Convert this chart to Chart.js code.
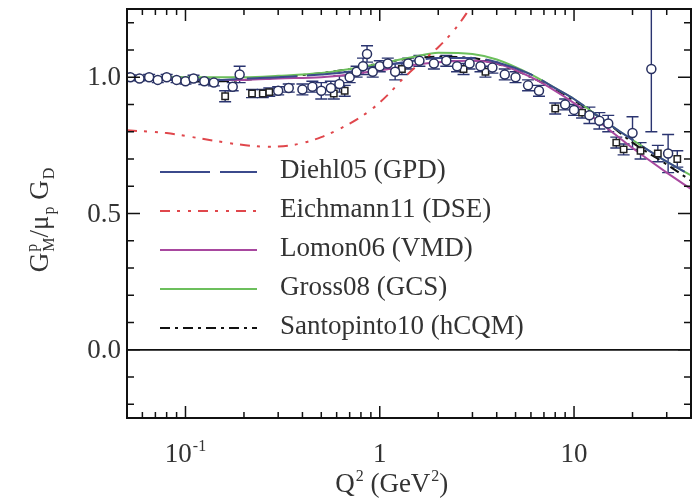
<!DOCTYPE html>
<html>
<head>
<meta charset="utf-8">
<script src="https://cdn.jsdelivr.net/npm/chart.js@4.4.1/dist/chart.umd.min.js"></script>
<style>
  html, body { margin: 0; padding: 0; background: #fff; }
  #wrap { width: 699px; height: 504px; }
</style>
</head>
<body>
<div id="wrap"><canvas id="gm" width="699" height="504"></canvas></div>
<script>
// Q^2 grid (GeV^2) for the model curves
const q2Grid      = [0.05, 0.07, 0.1, 0.15, 0.2, 0.3, 0.5, 0.7, 1, 1.5, 2, 3, 4, 6, 8, 10, 15, 20, 30, 40];
const diehl05     = [0.99, 0.99, 0.99, 0.99, 0.995, 1.0, 1.01, 1.02, 1.04, 1.06, 1.07, 1.07, 1.055, 1.01, 0.96, 0.92, 0.83, 0.77, 0.69, 0.64];
const lomon06     = [1.0, 0.995, 0.99, 0.99, 0.99, 0.995, 1.0, 1.01, 1.025, 1.045, 1.055, 1.06, 1.05, 1.0, 0.95, 0.905, 0.81, 0.74, 0.65, 0.59];
const gross08     = [1.0, 1.0, 1.0, 1.0, 1.0, 1.005, 1.015, 1.03, 1.05, 1.075, 1.09, 1.085, 1.065, 1.01, 0.96, 0.92, 0.83, 0.77, 0.69, 0.64];
const santopinto10= [0.99, 0.99, 0.985, 0.985, 0.99, 1.0, 1.015, 1.03, 1.05, 1.07, 1.075, 1.07, 1.05, 1.0, 0.955, 0.915, 0.83, 0.76, 0.68, 0.62];

// Eichmann11 runs on its own grid (leaves the frame near Q^2 = 3)
const eichQ2      = [0.05, 0.08, 0.12, 0.18, 0.26, 0.35, 0.5, 0.7, 0.9, 1.1, 1.3, 1.6, 2.0, 2.4, 2.8, 3.0];
const eichmann11  = [0.805, 0.795, 0.775, 0.755, 0.745, 0.75, 0.78, 0.83, 0.88, 0.935, 0.99, 1.05, 1.11, 1.17, 1.235, 1.27];

// experimental points: open circles
const circQ2  = [0.052, 0.058, 0.065, 0.072, 0.08, 0.09, 0.1, 0.11, 0.125, 0.14, 0.175, 0.19, 0.3, 0.34, 0.4, 0.45, 0.5, 0.56, 0.62, 0.7, 0.76, 0.82, 0.86, 0.92, 1.0, 1.1, 1.2, 1.4, 1.6, 1.9, 2.2, 2.5, 2.9, 3.3, 3.8, 4.4, 5.0, 5.8, 6.6, 9.0, 10, 12, 13.5, 15, 20, 25, 30.5];
const circG   = [1.0, 0.995, 1.0, 0.99, 1.0, 0.99, 0.985, 0.995, 0.985, 0.98, 0.965, 1.01, 0.95, 0.96, 0.955, 0.965, 0.95, 0.96, 0.975, 1.0, 1.02, 1.04, 1.085, 1.02, 1.04, 1.05, 1.02, 1.05, 1.06, 1.05, 1.06, 1.04, 1.05, 1.04, 1.035, 1.01, 1.0, 0.97, 0.95, 0.9, 0.88, 0.86, 0.84, 0.83, 0.795, 1.03, 0.72];
const circErr = [0.008, 0.008, 0.01, 0.01, 0.01, 0.01, 0.01, 0.012, 0.012, 0.012, 0.015, 0.03, 0.015, 0.015, 0.02, 0.02, 0.03, 0.025, 0.03, 0.02, 0.02, 0.03, 0.03, 0.02, 0.02, 0.02, 0.03, 0.02, 0.02, 0.02, 0.02, 0.02, 0.02, 0.02, 0.02, 0.02, 0.02, 0.02, 0.02, 0.02, 0.02, 0.03, 0.03, 0.03, 0.06, 0.23, 0.07];

// experimental points: open squares
const sqQ2  = [0.16, 0.22, 0.25, 0.27, 0.58, 0.66, 1.3, 2.7, 3.5, 8.0, 11, 16.5, 18, 22, 27, 34];
const sqG   = [0.93, 0.94, 0.94, 0.945, 0.94, 0.95, 1.03, 1.03, 1.02, 0.885, 0.87, 0.76, 0.735, 0.73, 0.72, 0.70];
const sqErr = [0.02, 0.015, 0.015, 0.015, 0.02, 0.02, 0.02, 0.02, 0.02, 0.02, 0.02, 0.02, 0.02, 0.03, 0.03, 0.03];

const xLabelValues = [0.1, 1, 10];
const yLabelValues = [0, 0.5, 1.0];
const yLabelTexts  = ['0.0', '0.5', '1.0'];

const FONT = '"Liberation Serif", "DejaVu Serif", serif';
const pts = (xs, ys) => xs.map((x, i) => ({ x: x, y: ys[i] }));

function curve(label, xs, ys, color, dash) {
  return { type: 'line', label: label, data: pts(xs, ys), borderColor: color, borderWidth: 2,
           borderDash: dash, pointRadius: 0, cubicInterpolationMode: 'monotone', fill: false, order: 1 };
}

const datasets = [
  curve('Diehl05 (GPD)', q2Grid, diehl05, '#3b4a8c', [50, 10]),
  curve('Eichmann11 (DSE)', eichQ2, eichmann11, '#e0474c', [10, 7, 3, 8, 3, 7]),
  curve('Lomon06 (VMD)', q2Grid, lomon06, '#a8489f', []),
  curve('Gross08 (GCS)', q2Grid, gross08, '#6cbf5c', []),
  curve('Santopinto10 (hCQM)', q2Grid, santopinto10, '#111111', [10, 5, 3, 5]),
  { type: 'scatter', label: 'circ', data: pts(circQ2, circG), err: circErr, pointStyle: 'circle',
    pointRadius: 4.5, borderWidth: 1.5, borderColor: '#283060', backgroundColor: '#ffffff', order: 0 },
  { type: 'scatter', label: 'sq', data: pts(sqQ2, sqG), err: sqErr, pointStyle: 'rect',
    pointRadius: 4.5, borderWidth: 1.5, borderColor: '#222222', backgroundColor: '#ffffff', order: 0 }
];

// draws rich text: parts = [{t, k}] with k = 'n' normal, 'sup', 'sub', 'both' (sup/sub stacked)
function richWidth(ctx, parts, big, small) {
  let w = 0;
  parts.forEach(p => {
    if (p.k === 'n') { ctx.font = big + 'px ' + FONT; w += ctx.measureText(p.t).width; }
    else if (p.k === 'both') { ctx.font = small + 'px ' + FONT; w += Math.max(ctx.measureText(p.t[0]).width, ctx.measureText(p.t[1]).width) + 1; }
    else { ctx.font = small + 'px ' + FONT; w += ctx.measureText(p.t).width + 1; }
  });
  return w;
}
function drawRich(ctx, parts, cx, baseline, big, small) {
  let x = cx - richWidth(ctx, parts, big, small) / 2;
  ctx.textAlign = 'left'; ctx.textBaseline = 'alphabetic';
  parts.forEach(p => {
    if (p.k === 'n') { ctx.font = big + 'px ' + FONT; ctx.fillText(p.t, x, baseline); x += ctx.measureText(p.t).width; }
    else if (p.k === 'both') {
      ctx.font = small + 'px ' + FONT;
      ctx.fillText(p.t[0], x + 1, baseline - big * 0.42);
      ctx.fillText(p.t[1], x + 1, baseline + big * 0.22);
      x += Math.max(ctx.measureText(p.t[0]).width, ctx.measureText(p.t[1]).width) + 1;
    } else {
      ctx.font = small + 'px ' + FONT;
      ctx.fillText(p.t, x + 1, baseline + (p.k === 'sup' ? -big * 0.42 : big * 0.22));
      x += ctx.measureText(p.t).width + 1;
    }
  });
}

const decor = {
  id: 'decor',
  beforeDatasetsDraw(chart) {
    const { ctx, chartArea: a, scales: { x, y } } = chart;
    ctx.save();
    ctx.beginPath(); ctx.rect(a.left, a.top, a.right - a.left, a.bottom - a.top); ctx.clip();
    // zero line
    ctx.strokeStyle = '#111'; ctx.lineWidth = 1.6;
    ctx.beginPath(); ctx.moveTo(a.left, y.getPixelForValue(0)); ctx.lineTo(a.right, y.getPixelForValue(0)); ctx.stroke();
    // error bars
    chart.data.datasets.forEach(ds => {
      if (!ds.err) return;
      ctx.strokeStyle = '#2a3470'; ctx.lineWidth = 1.4;
      ds.data.forEach((p, i) => {
        const px = x.getPixelForValue(p.x);
        const y1 = y.getPixelForValue(p.y + ds.err[i]), y2 = y.getPixelForValue(p.y - ds.err[i]);
        ctx.beginPath();
        ctx.moveTo(px, y1); ctx.lineTo(px, y2);
        ctx.moveTo(px - 6, y1); ctx.lineTo(px + 6, y1);
        ctx.moveTo(px - 6, y2); ctx.lineTo(px + 6, y2);
        ctx.stroke();
      });
    });
    ctx.restore();
  },
  afterDraw(chart) {
    const { ctx, chartArea: a, scales: { x, y } } = chart;
    ctx.save();
    ctx.strokeStyle = '#111'; ctx.lineWidth = 2;
    ctx.strokeRect(a.left, a.top, a.right - a.left, a.bottom - a.top);

    // x ticks (bottom and top, inward)
    ctx.lineWidth = 1.5;
    for (let d = -2; d <= 1; d++) {
      for (let m = 1; m <= 9; m++) {
        const v = m * Math.pow(10, d);
        if (v < x.min || v > x.max) continue;
        const px = x.getPixelForValue(v), len = m === 1 ? 12 : 6;
        ctx.beginPath();
        ctx.moveTo(px, a.bottom); ctx.lineTo(px, a.bottom - len);
        ctx.moveTo(px, a.top); ctx.lineTo(px, a.top + len);
        ctx.stroke();
      }
    }
    // y ticks (left and right, inward)
    for (let k = -2; k <= 12; k++) {
      const py = y.getPixelForValue(k / 10), len = k % 5 === 0 ? 13 : 7;
      ctx.beginPath();
      ctx.moveTo(a.left, py); ctx.lineTo(a.left + len, py);
      ctx.moveTo(a.right, py); ctx.lineTo(a.right - len, py);
      ctx.stroke();
    }

    ctx.fillStyle = '#333';
    // y labels
    ctx.font = '27px ' + FONT; ctx.textAlign = 'right'; ctx.textBaseline = 'middle';
    yLabelValues.forEach((v, i) => ctx.fillText(yLabelTexts[i], a.left - 6, y.getPixelForValue(v) + 1));
    // x labels
    xLabelValues.forEach(v => {
      const px = x.getPixelForValue(v);
      if (v < 1) {
        drawRich(ctx, [{ t: '10', k: 'n' }, { t: '-1', k: 'sup' }], px, 462, 27, 16);
      } else {
        ctx.font = '27px ' + FONT; ctx.textAlign = 'center'; ctx.textBaseline = 'alphabetic';
        ctx.fillText(String(v), px, 462);
      }
    });
    // x title
    drawRich(ctx, [{ t: 'Q', k: 'n' }, { t: '2', k: 'sup' }, { t: ' (GeV', k: 'n' }, { t: '2', k: 'sup' }, { t: ')', k: 'n' }],
             x.getPixelForValue(1) + 12, 492, 27, 16);
    // y title
    ctx.save();
    ctx.translate(48, 220); ctx.rotate(-Math.PI / 2);
    drawRich(ctx, [{ t: 'G', k: 'n' }, { t: ['p', 'M'], k: 'both' }, { t: '/\u03bc', k: 'n' }, { t: 'p', k: 'sub' },
                   { t: ' G', k: 'n' }, { t: 'D', k: 'sub' }], 0, 0, 27, 16);
    ctx.restore();

    // legend
    chart.data.datasets.slice(0, 5).forEach((ds, i) => {
      const ly = 172 + i * 39;
      ctx.strokeStyle = ds.borderColor; ctx.lineWidth = 2; ctx.setLineDash(ds.borderDash);
      ctx.beginPath(); ctx.moveTo(160, ly); ctx.lineTo(257, ly); ctx.stroke();
      ctx.setLineDash([]);
      ctx.font = '27px ' + FONT; ctx.textAlign = 'left'; ctx.textBaseline = 'middle'; ctx.fillStyle = '#333';
      ctx.fillText(ds.label, 280, ly - 1);
    });
    ctx.restore();
  }
};

new Chart(document.getElementById('gm'), {
  data: { datasets: datasets },
  options: {
    responsive: false, animation: false, devicePixelRatio: 1,
    layout: { padding: { top: 9, right: 8, left: 0, bottom: 0 } },
    plugins: { legend: { display: false }, tooltip: { enabled: false } },
    scales: {
      x: { type: 'logarithmic', min: 0.05, max: 40, ticks: { display: false }, grid: { display: false },
           border: { display: false }, afterFit: s => { s.height = 86; } },
      y: { type: 'linear', min: -0.25, max: 1.25, ticks: { display: false }, grid: { display: false },
           border: { display: false }, afterFit: s => { s.width = 127; } }
    }
  },
  plugins: [decor]
});
</script>
</body>
</html>
